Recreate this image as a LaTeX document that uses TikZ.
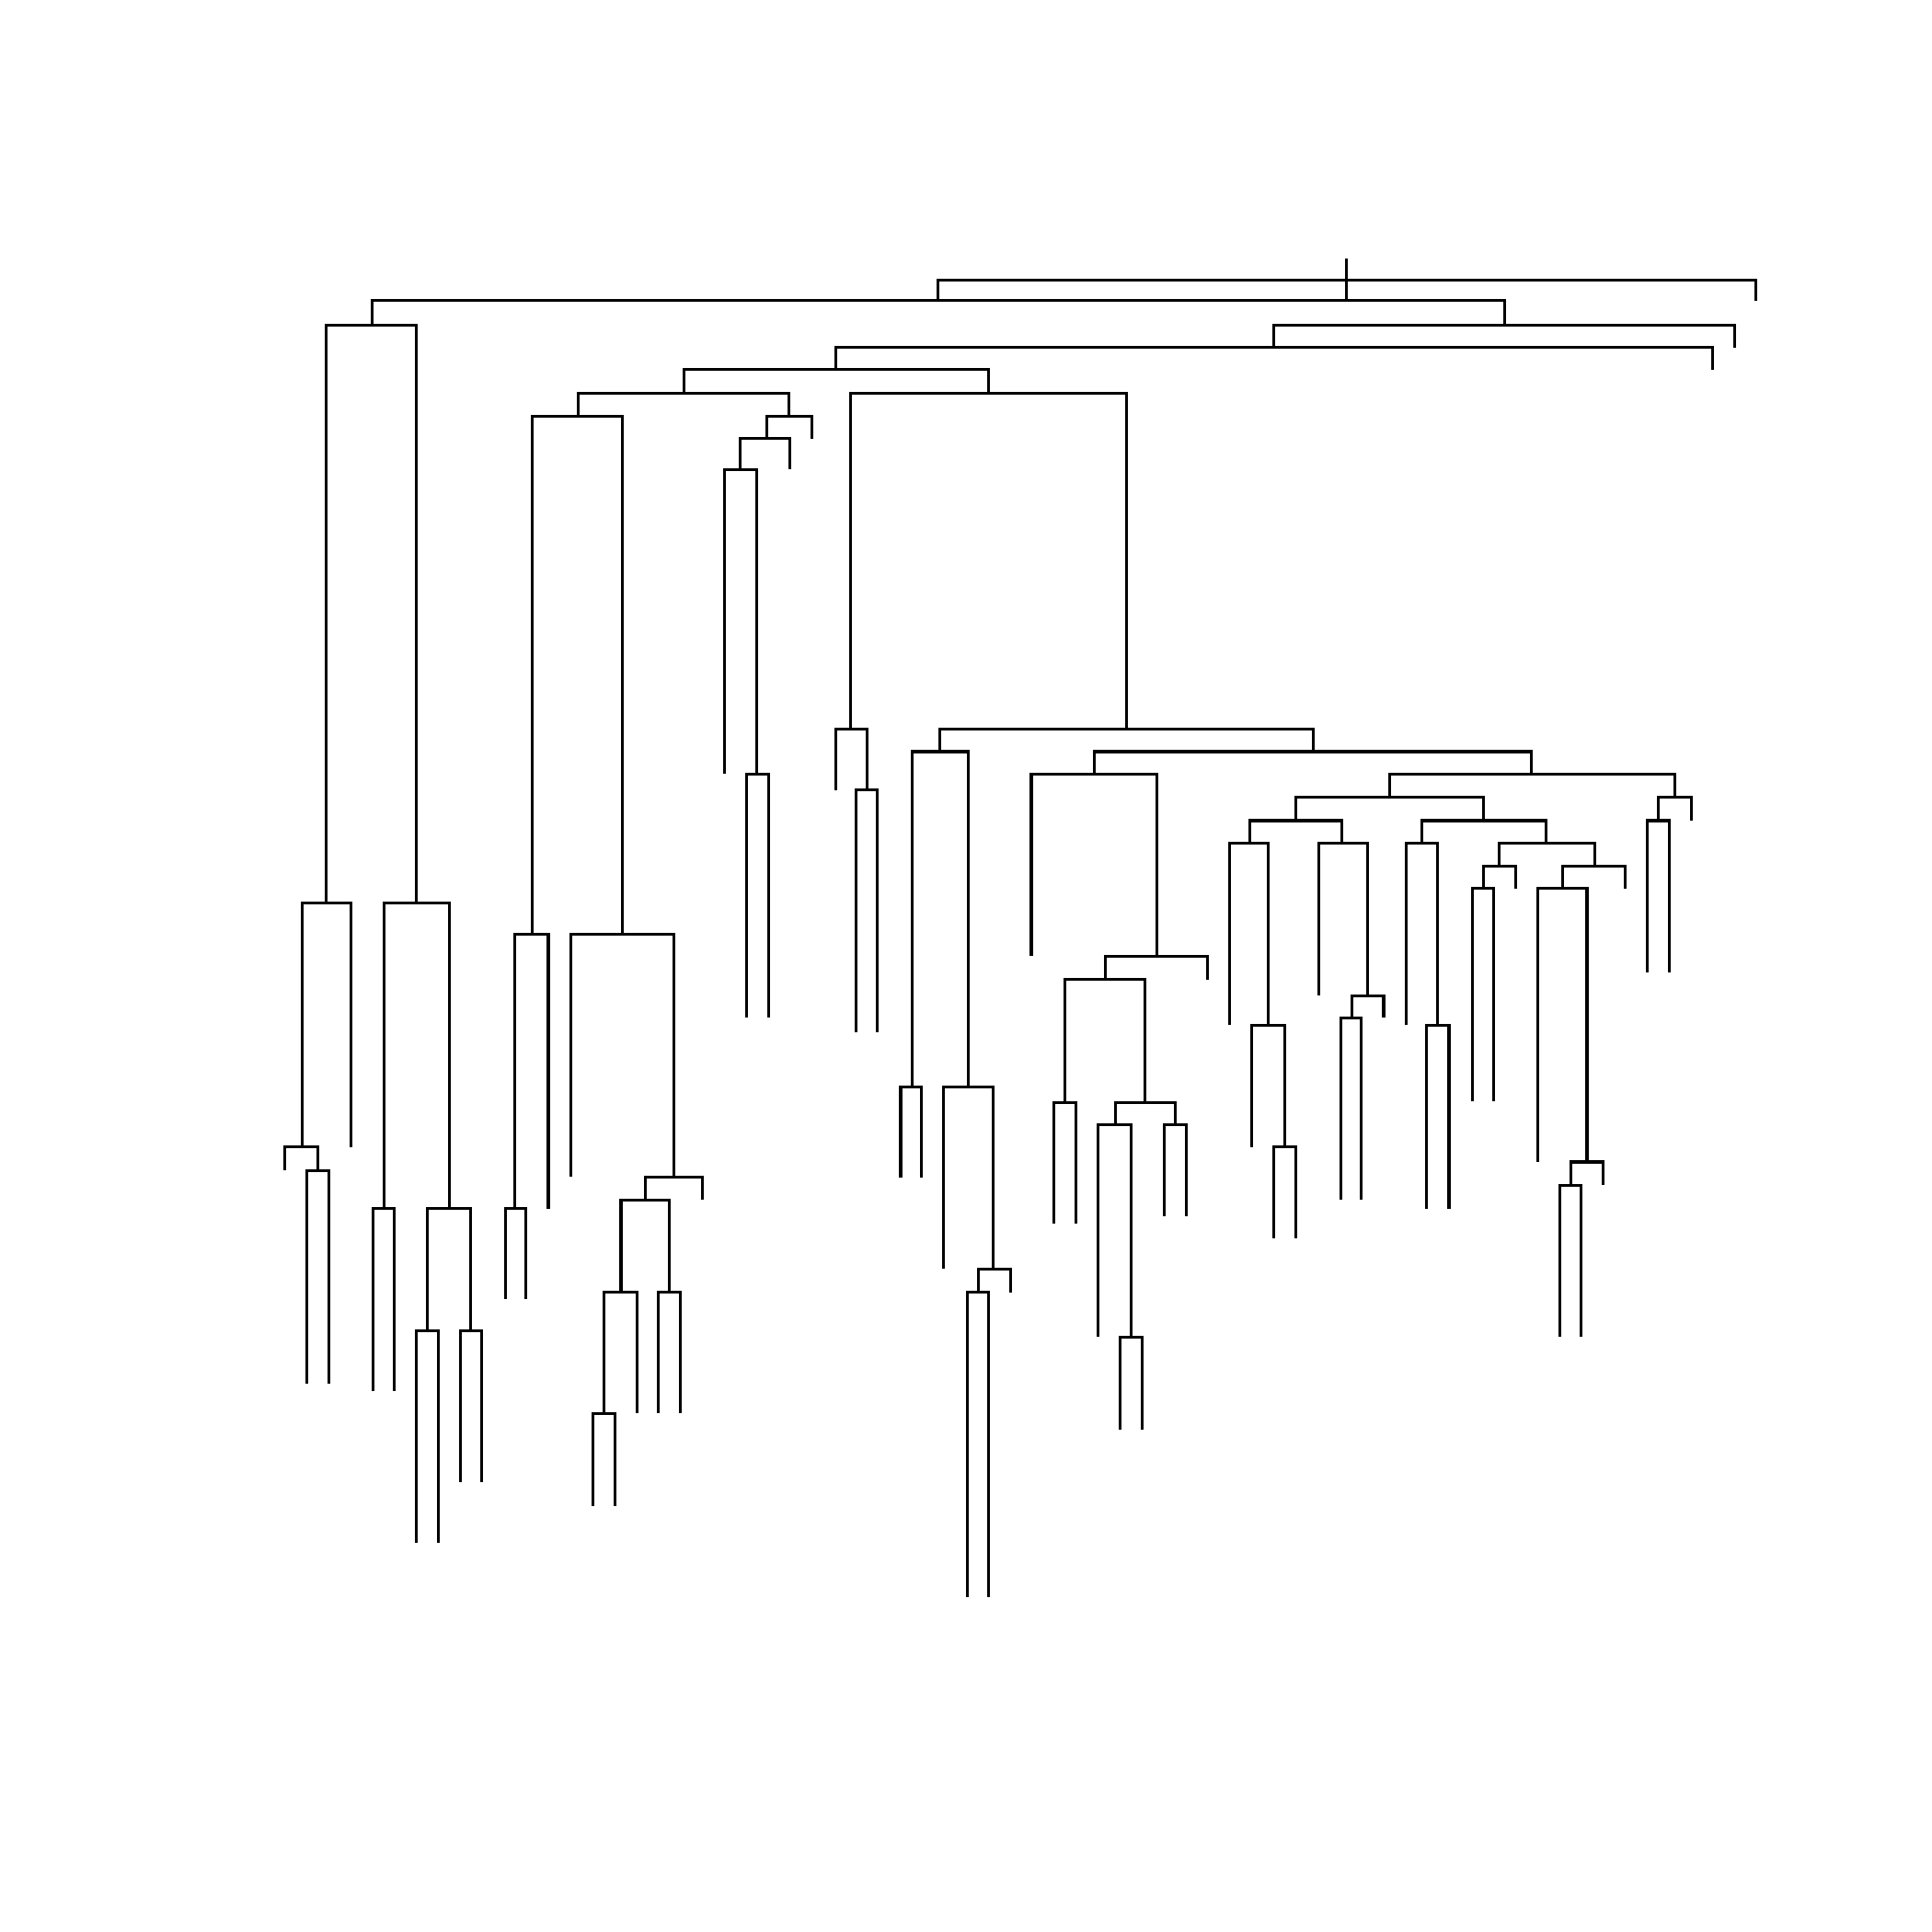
\documentclass[tikz,border=0pt]{standalone}
\usepackage{tikz}

\begin{document}
\begin{tikzpicture}[
  x=0.01cm, y=-0.01cm,
  link/.style={draw=black, line width=0.65pt}
]
\useasboundingbox (0,0) rectangle (1568,1568);

% root stub
\coordinate (root top) at (1093,210);
\coordinate (root bot) at (1093,245);
\draw[link] (root top) -- (root bot);

% merges: height / left x / left end / right x / right end
\foreach \h/\xl/\yl/\xr/\yr in {
  227/761/244/1425/244,
  244/302/264/1221/264,
  264/265/733/338/733,
  264/1034/282/1408/282,
  282/678/300/1390/300,
  300/555/319/802/319,
  319/469/338/640/338,
  319/690/592/914/592,
  338/432/758/505/758,
  338/622/356/659/356,
  356/601/381/641/381,
  381/588/628/614/628,
  628/606/826/624/826,
  592/678/641/704/641,
  641/695/838/712/838,
  592/763/610/1066/610,
  610/740/882/786/882,
  882/731/956/748/956,
  882/766/1030/806/1030,
  1030/794/1049/820/1049,
  1049/785/1296/802/1296,
  610/888/628/1243/628,
  628/837/776/939/776,
  776/897/795/980/795,
  795/864/895/929/895,
  895/855/993/873/993,
  895/905/913/954/913,
  913/891/1085/918/1085,
  1085/909/1160/927/1160,
  913/945/987/963/987,
  628/1128/647/1359/647,
  647/1052/666/1204/666,
  666/1014/684/1089/684,
  684/998/832/1029/832,
  832/1016/931/1043/931,
  931/1034/1005/1052/1005,
  684/1070/808/1110/808,
  808/1097/826/1123/826,
  826/1088/974/1105/974,
  666/1154/684/1255/684,
  684/1141/832/1167/832,
  832/1158/981/1176/981,
  684/1217/703/1294/703,
  703/1204/721/1230/721,
  721/1195/894/1212/894,
  703/1268/721/1319/721,
  721/1248/943/1288/943,
  943/1275/962/1301/962,
  962/1266/1085/1283/1085,
  647/1346/666/1373/666,
  666/1337/789/1355/789,
  758/418/981/445/981,
  981/410/1054/427/1054,
  758/463/955/547/955,
  955/524/974/570/974,
  974/504/1049/543/1049,
  1049/490/1147/517/1147,
  1147/481/1222/499/1222,
  1049/534/1147/552/1147,
  733/245/931/285/931,
  931/231/950/258/950,
  950/249/1123/267/1123,
  733/312/981/365/981,
  981/303/1129/320/1129,
  981/347/1080/382/1080,
  1080/338/1252/356/1252,
  1080/374/1203/391/1203}
  \draw[link] (\xl,\yl) -- (\xl,\h) -- (\xr,\h) -- (\xr,\yr);

\end{tikzpicture}
\end{document}
